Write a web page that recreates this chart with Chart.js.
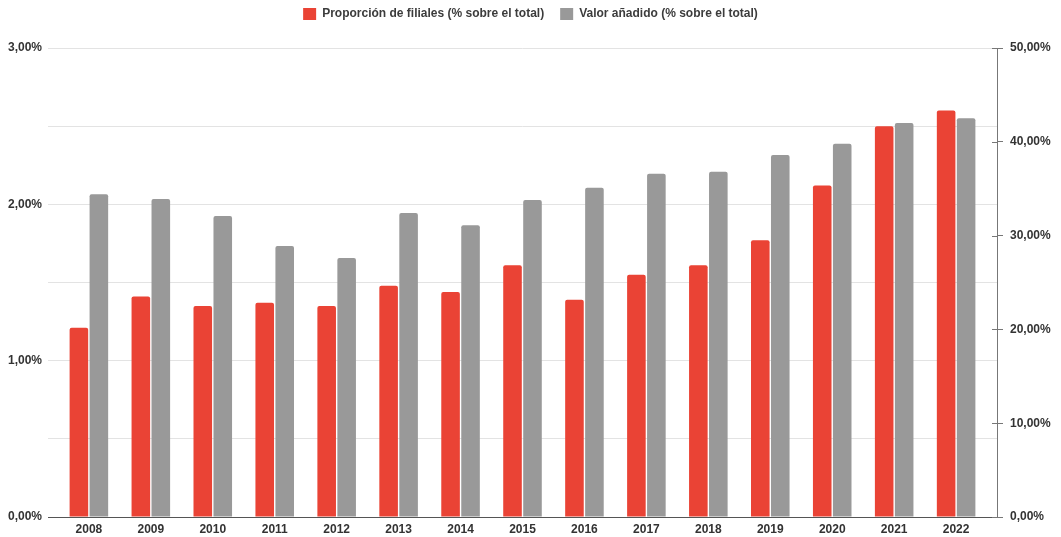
<!DOCTYPE html>
<html>
<head>
<meta charset="utf-8">
<script src="https://cdn.jsdelivr.net/npm/chart.js@4.4.0/dist/chart.umd.min.js"></script>
<style>
  html, body { margin: 0; padding: 0; background: #fff; }
  #wrap { width: 1061px; height: 537px; }
</style>
</head>
<body>
<div id="wrap"><canvas id="barChart" width="1061" height="537"></canvas></div>
<script>
// datos
const years = [2008, 2009, 2010, 2011, 2012, 2013, 2014, 2015, 2016, 2017, 2018, 2019, 2020, 2021, 2022];
const filiales = [1.21, 1.41, 1.35, 1.37, 1.35, 1.48, 1.44, 1.61, 1.39, 1.55, 1.61, 1.77, 2.12, 2.50, 2.60];
const valorAnadido = [34.4, 33.9, 32.1, 28.9, 27.6, 32.4, 31.1, 33.8, 35.1, 36.6, 36.8, 38.6, 39.8, 42.0, 42.5];
const leftTicks = [0, 1, 2, 3];
const rightTicks = [0, 10, 20, 30, 40, 50];

function pct(v) {
    return v.toFixed(2).replace('.', ',') + '%';
}

Chart.defaults.font.family = "'Liberation Sans', Arial, sans-serif";
Chart.defaults.color = '#333';

// alto fijo de la leyenda y la subimos un poco
const legendHeight = {
    id: 'legendHeight',
    beforeInit(chart) {
        const fit = chart.legend.fit;
        chart.legend.fit = function() {
            fit.bind(chart.legend)();
            this.height = 48;
        };
    },
    afterLayout(chart) {
        chart.legend.top = -8;
    }
};

// marcas del eje derecho también hacia dentro
const innerTicks = {
    id: 'innerTicks',
    afterDraw(chart) {
        const s = chart.scales.y1;
        const c = chart.ctx;
        c.save();
        c.strokeStyle = '#777';
        c.lineWidth = 1;
        s.ticks.forEach(t => {
            const y = Math.round(s.getPixelForValue(t.value)) + 0.5;
            c.beginPath();
            c.moveTo(s.left - 5, y);
            c.lineTo(s.left, y);
            c.stroke();
        });
        c.restore();
    }
};

const ctx = document.getElementById('barChart').getContext('2d');
const barChart = new Chart(ctx, {
    type: 'bar',
    data: {
        datasets: [{
            label: 'Proporción de filiales (% sobre el total)',
            data: years.map((y, i) => ({ x: y, y: filiales[i] })),
            backgroundColor: '#EA4335',
            borderRadius: 2,
            borderSkipped: 'bottom',
            yAxisID: 'y'
        }, {
            label: 'Valor añadido (% sobre el total)',
            data: years.map((y, i) => ({ x: y, y: valorAnadido[i] })),
            backgroundColor: '#999999',
            borderRadius: 2,
            borderSkipped: 'bottom',
            yAxisID: 'y1'
        }]
    },
    options: {
        responsive: false,
        animation: false,
        categoryPercentage: 0.645,
        barPercentage: 0.93,
        layout: { padding: 0 },
        plugins: {
            legend: {
                position: 'top',
                labels: {
                    boxWidth: 13,
                    boxHeight: 12,
                    padding: 16,
                    font: { size: 12, weight: 'bold' },
                    color: '#3c3c3c'
                }
            },
            tooltip: { enabled: false }
        },
        scales: {
            x: {
                type: 'linear',
                offset: false,
                bounds: 'data',
                min: 2007.34,
                max: 2022.66,
                afterFit(scale) { scale.height = 20; },
                afterBuildTicks(scale) {
                    scale.ticks = years.map(v => ({ value: v }));
                },
                grid: { display: false, drawTicks: false, offset: false },
                border: { display: true, color: '#555', width: 1 },
                ticks: {
                    autoSkip: false,
                    maxRotation: 0,
                    padding: 5,
                    font: { size: 12, weight: 'bold' },
                    color: '#333',
                    callback: v => String(v)
                }
            },
            y: {
                position: 'left',
                min: 0,
                max: 3,
                afterFit(scale) { scale.width = 48; },
                grid: { color: '#e3e3e3', drawTicks: false },
                border: { display: false },
                ticks: {
                    stepSize: 0.5,
                    padding: 6,
                    font: { size: 12, weight: 'bold' },
                    color: '#333',
                    callback: v => leftTicks.includes(v) ? pct(v) : ''
                }
            },
            y1: {
                position: 'right',
                min: 0,
                max: 50,
                afterFit(scale) { scale.width = 64; },
                grid: { drawOnChartArea: false, drawTicks: true, tickLength: 6, color: '#777' },
                border: { display: true, color: '#777', width: 1 },
                ticks: {
                    stepSize: 10,
                    padding: 7,
                    font: { size: 12, weight: 'bold' },
                    color: '#333',
                    callback: v => rightTicks.includes(v) ? pct(v) : ''
                }
            }
        }
    },
    plugins: [legendHeight, innerTicks]
});
</script>
</body>
</html>
